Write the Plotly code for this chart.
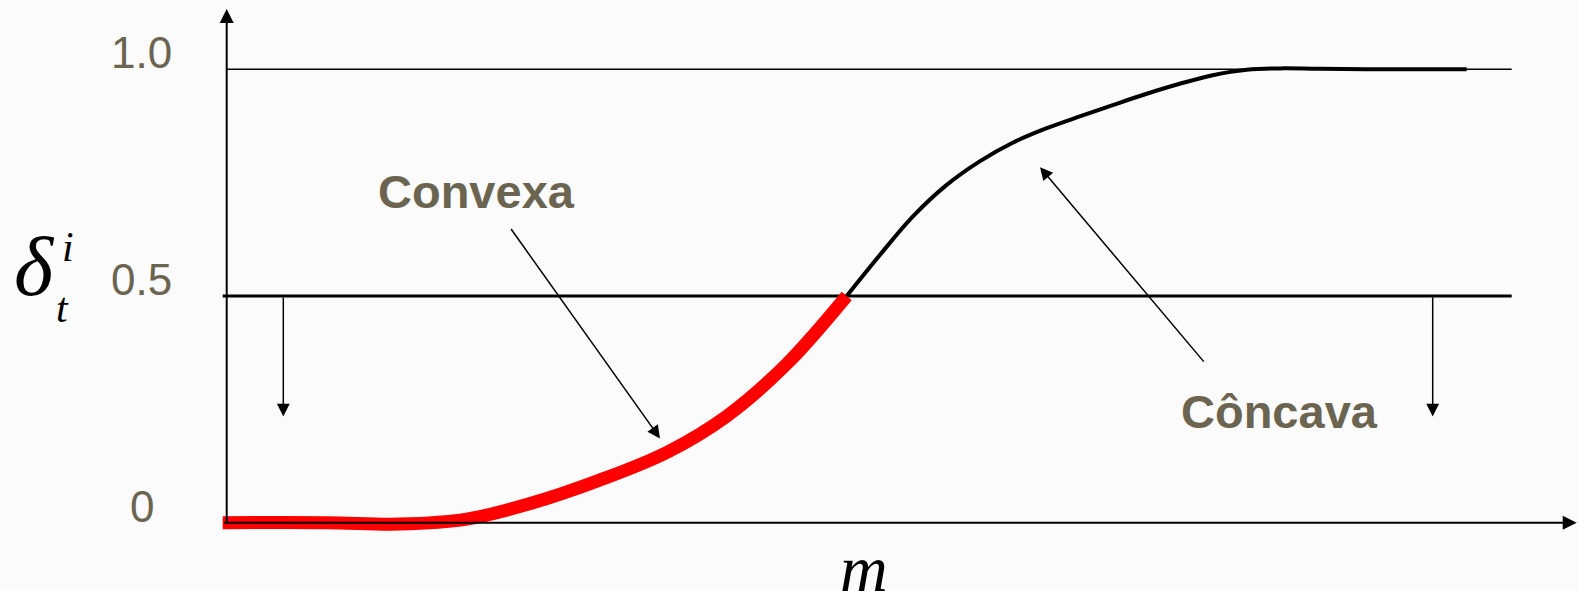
import plotly.graph_objects as go

# ---- data (m, delta) ----
m_red = [-0.04, 1.00, 1.73, 2.40, 3.00, 3.73, 4.40, 5.00, 5.60, 6.20]
d_red = [0.0, 0.0, -0.003, 0.008, 0.040, 0.094, 0.155, 0.235, 0.350, 0.5]
m_black = [6.20, 6.53, 6.86, 7.20, 7.53, 7.86, 8.20, 8.53, 8.86, 9.20, 9.53, 9.86, 10.20, 10.53, 10.93, 11.73, 12.40]
d_black = [0.5, 0.590, 0.675, 0.745, 0.797, 0.838, 0.870, 0.896, 0.921, 0.946, 0.968, 0.987, 0.999, 1.002, 1.001, 1.0, 1.0]
y_ticks = [1.0, 0.5, 0]
y_tick_labels = ["1.0", "0.5", "0"]

TXT = "#6b6450"
SANS = "Liberation Sans, Arial, sans-serif"
SERIF = "Liberation Serif, Times New Roman, serif"

fig = go.Figure()
fig.add_trace(go.Scatter(x=m_black, y=d_black, mode="lines",
                         line=dict(color="black", width=4, shape="spline", smoothing=1),
                         hoverinfo="skip", showlegend=False))
fig.add_trace(go.Scatter(x=m_red, y=d_red, mode="lines",
                         line=dict(color="#ff0000", width=13, shape="spline", smoothing=1),
                         hoverinfo="skip", showlegend=False))

shapes = [
    dict(type="line", xref="x", yref="y", x0=0, x1=12.85, y0=1.0, y1=1.0, line=dict(color="black", width=1.5), layer="below"),
    dict(type="line", xref="x", yref="y", x0=-0.04, x1=12.85, y0=0.5, y1=0.5, line=dict(color="black", width=3.2), layer="below"),
]
fig.update_layout(shapes=shapes)

ann = []
def arrow(x, y, ax, ay, w=1.5, size=1.7):
    ann.append(dict(x=x, y=y, ax=ax, ay=ay, xref="x", yref="y", axref="x", ayref="y", text="",
                    showarrow=True, arrowhead=2, arrowsize=size, arrowwidth=w, arrowcolor="black"))

# axes with arrows
arrow(0, 1.133, 0, -0.001, w=2, size=1.4)
arrow(13.50, 0, -0.04, 0, w=2, size=1.4)
# down arrows
arrow(0.566, 0.234, 0.566, 0.5)
arrow(12.06, 0.234, 12.06, 0.5)
# pointers
arrow(4.333, 0.186, 2.833, 0.651)
arrow(8.133, 0.784, 9.783, 0.352)

for v, t in zip(y_ticks, y_tick_labels):
    ann.append(dict(x=-0.85, y=v + 0.036, xref="x", yref="y", text=t, showarrow=False,
                    font=dict(family=SANS, size=44, color=TXT), xanchor="center", yanchor="middle"))

ann.append(dict(x=2.50, y=0.73, xref="x", yref="y", text="<b>Convexa</b>", showarrow=False,
                font=dict(family=SANS, size=47, color=TXT), xanchor="center", yanchor="middle"))
ann.append(dict(x=10.53, y=0.245, xref="x", yref="y", text="<b>Côncava</b>", showarrow=False,
                font=dict(family=SANS, size=47, color=TXT), xanchor="center", yanchor="middle"))

# delta symbol with sub/superscript
ann.append(dict(x=-1.92, y=0.565, xref="x", yref="y", text="<i>δ</i>", showarrow=False,
                font=dict(family=SERIF, size=84, color="black"), xanchor="center", yanchor="middle"))
ann.append(dict(x=-1.64, y=0.473, xref="x", yref="y", text="<i>t</i>", showarrow=False,
                font=dict(family=SERIF, size=42, color="black"), xanchor="center", yanchor="middle"))
ann.append(dict(x=-1.59, y=0.607, xref="x", yref="y", text="<i>i</i>", showarrow=False,
                font=dict(family=SERIF, size=42, color="black"), xanchor="center", yanchor="middle"))
# x label
ann.append(dict(x=6.37, y=-0.102, xref="x", yref="y", text="<i>m</i>", showarrow=False,
                font=dict(family=SERIF, size=66, color="black"), xanchor="center", yanchor="middle"))

fig.update_layout(
    annotations=ann,
    width=1579, height=591, autosize=False,
    margin=dict(l=0, r=0, t=0, b=0, pad=0),
    paper_bgcolor="#fbfbfb", plot_bgcolor="#fbfbfb",
    xaxis=dict(range=[-2.267, 13.523], visible=False, fixedrange=True),
    yaxis=dict(range=[-0.1506, 1.1528], visible=False, fixedrange=True),
    showlegend=False,
)
fig.write_html("out.html", config={"displayModeBar": False},
               post_script="document.body.style.margin='0';document.body.style.overflow='hidden';")
